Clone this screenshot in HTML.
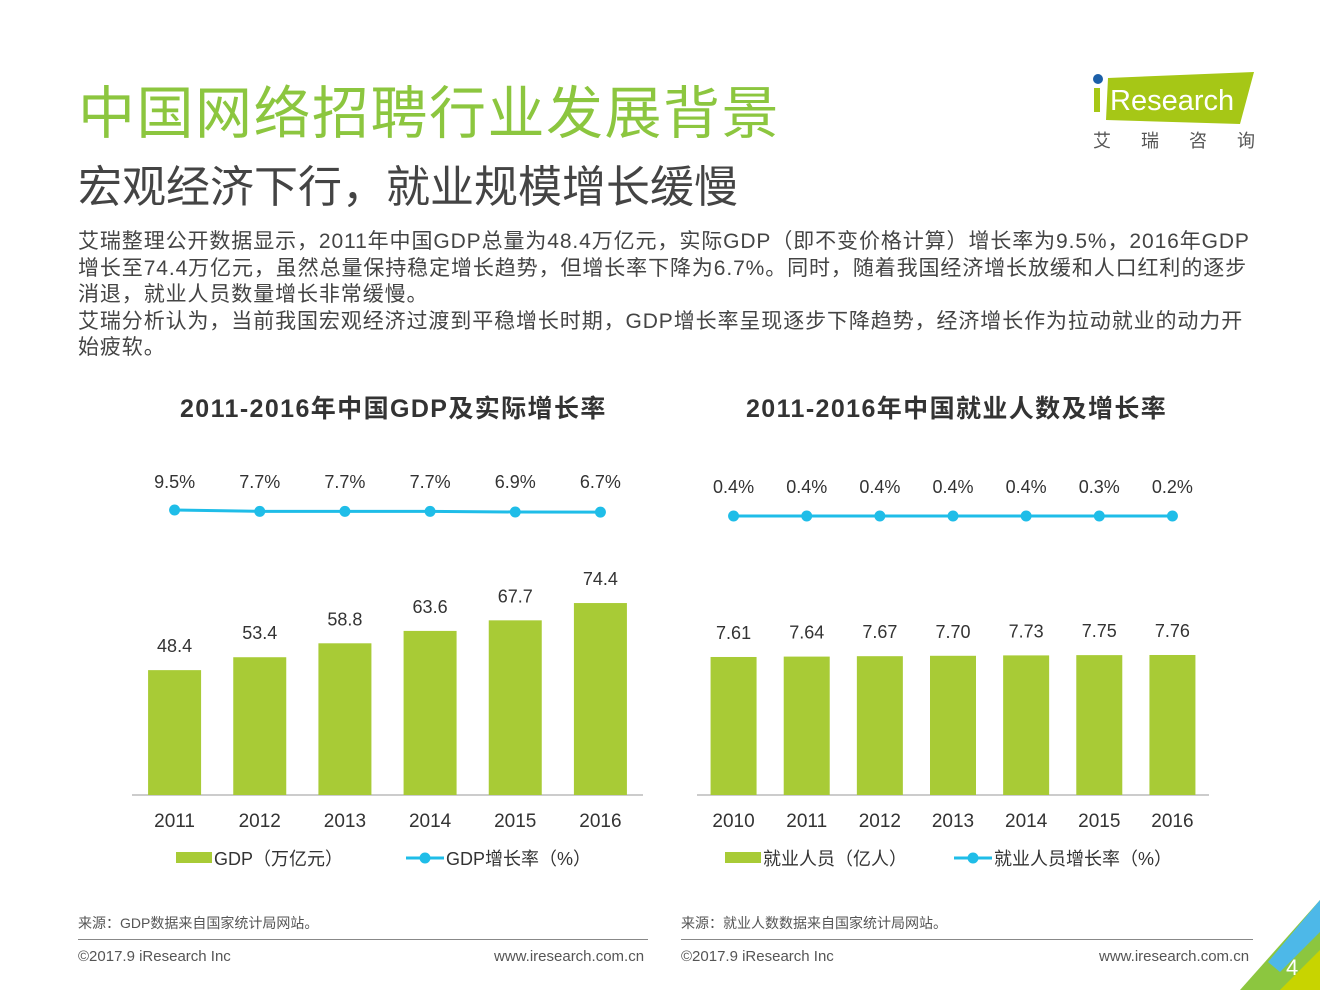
<!DOCTYPE html>
<html><head><meta charset="utf-8"><style>
body{margin:0;width:1320px;height:990px;overflow:hidden;background:#fff;font-family:"Liberation Sans","Noto Sans CJK SC",sans-serif;position:relative;color:#333}
.a{position:absolute;white-space:nowrap}
</style></head><body>
<div class="a" style="left:78px;top:68px;font-size:57px;color:#8cc63f;letter-spacing:1.5px">中国网络招聘行业发展背景</div>
<div class="a" style="left:78px;top:151px;font-size:44px;color:#444">宏观经济下行，就业规模增长缓慢</div>
<div class="a" style="left:78px;top:229px;font-size:21px;line-height:26.5px;color:#444;letter-spacing:0.9px">艾瑞整理公开数据显示，2011年中国GDP总量为48.4万亿元，实际GDP（即不变价格计算）增长率为9.5%，2016年GDP<br>增长至74.4万亿元，虽然总量保持稳定增长趋势，但增长率下降为6.7%。同时，随着我国经济增长放缓和人口红利的逐步<br>消退，就业人员数量增长非常缓慢。<br>艾瑞分析认为，当前我国宏观经济过渡到平稳增长时期，GDP增长率呈现逐步下降趋势，经济增长作为拉动就业的动力开<br>始疲软。</div>
<svg class="a" style="left:1090px;top:70px" width="170" height="85">
<polygon points="18,8 164,2 150,54 16,50" fill="#a6c716"/>
<circle cx="8" cy="9" r="5" fill="#1b5fa8"/>
<rect x="4" y="18" width="6" height="24" fill="#a6c716"/>
<text x="20" y="40" font-size="29" fill="#fff" font-family="Liberation Sans,sans-serif">Research</text>
<text x="3" y="77" font-size="18" fill="#555" font-family="Noto Sans CJK SC,sans-serif">艾</text>
<text x="51" y="77" font-size="18" fill="#555" font-family="Noto Sans CJK SC,sans-serif">瑞</text>
<text x="99" y="77" font-size="18" fill="#555" font-family="Noto Sans CJK SC,sans-serif">咨</text>
<text x="147" y="77" font-size="18" fill="#555" font-family="Noto Sans CJK SC,sans-serif">询</text>
</svg>
<div class="a" style="left:180px;top:389px;font-size:25px;font-weight:bold;color:#333;letter-spacing:1.4px">2011-2016年中国GDP及实际增长率</div>
<div class="a" style="left:746px;top:389px;font-size:25px;font-weight:bold;color:#333;letter-spacing:1.4px">2011-2016年中国就业人数及增长率</div>
<svg id="c" class="a" style="left:0;top:0" width="1320" height="990"></svg>
<div class="a" style="left:78px;top:913px;font-size:14px;color:#555">来源：GDP数据来自国家统计局网站。</div>
<div class="a" style="left:681px;top:913px;font-size:14px;color:#555">来源：就业人数数据来自国家统计局网站。</div>
<div class="a" style="left:78px;top:939px;width:570px;border-top:1px solid #888"></div>
<div class="a" style="left:681px;top:939px;width:572px;border-top:1px solid #888"></div>
<div class="a" style="left:78px;top:948px;font-size:15px;color:#555">©2017.9 iResearch Inc</div>
<div class="a" style="left:494px;top:948px;font-size:15px;color:#555">www.iresearch.com.cn</div>
<div class="a" style="left:681px;top:948px;font-size:15px;color:#555">©2017.9 iResearch Inc</div>
<div class="a" style="left:1099px;top:948px;font-size:15px;color:#555">www.iresearch.com.cn</div>
<svg class="a" style="left:1240px;top:900px" width="80" height="90">
<polygon points="80,0 80,90 0,90" fill="#8cc63f"/>
<polygon points="80,0 80,32 40,72 28,62" fill="#4db8e8"/>
<polygon points="80,50 80,90 40,90" fill="#c8d400"/>
<text x="46" y="75" font-size="22" fill="#fff" font-family="Liberation Sans,sans-serif">4</text>
</svg>
<script>
const gdpYears=["2011","2012","2013","2014","2015","2016"];
const gdpValues=[48.4,53.4,58.8,63.6,67.7,74.4];
const gdpRates=[9.5,7.7,7.7,7.7,6.9,6.7];
const empYears=["2010","2011","2012","2013","2014","2015","2016"];
const empValues=[7.61,7.64,7.67,7.70,7.73,7.75,7.76];
const empRates=[0.4,0.4,0.4,0.4,0.4,0.3,0.2];
const empValueLabels=["7.61","7.64","7.67","7.70","7.73","7.75","7.76"];
const empRateLabels=["0.4%","0.4%","0.4%","0.4%","0.4%","0.3%","0.2%"];
const svg=document.getElementById('c');const NS='http://www.w3.org/2000/svg';
function mk(t,a,txt){const e=document.createElementNS(NS,t);for(const k in a)e.setAttribute(k,a[k]);if(txt!=null)e.textContent=txt;svg.appendChild(e);return e;}
const GREEN='#a8cb36',BLUE='#1fbde8',BASE=795;
function chart(cfg){
 const n=cfg.cats.length;
 let ax=mk('line',{x1:cfg.x0,x2:cfg.x1,y1:BASE,y2:BASE,stroke:'#999','stroke-width':1});
 
 const step=(cfg.x1-cfg.x0)/n;
 const cx=i=>cfg.x0+step*(i+0.5);
 let pts=[];
 cfg.cats.forEach((c,i)=>{
  const top=cfg.yv(cfg.vals[i]);
  let b=mk('rect',{x:cx(i)-cfg.bw/2,y:top,width:cfg.bw,height:BASE-top,fill:GREEN});
  
  let vl=mk('text',{x:cx(i),y:top-18,'text-anchor':'middle','font-size':18,fill:'#333'},cfg.vlab(i));
  
  let xl=mk('text',{x:cx(i),y:827,'text-anchor':'middle','font-size':19,fill:'#333'},c);
  
  const ry=cfg.yr(cfg.rates[i]);pts.push(cx(i)+','+ry);
  let rl=mk('text',{x:cx(i),y:cfg.rly,'text-anchor':'middle','font-size':18,fill:'#333'},cfg.rlab(i));
  
 });
 let pl=mk('polyline',{points:pts.join(' '),fill:'none',stroke:BLUE,'stroke-width':3});
 
 pts.forEach(p=>{const [x,y]=p.split(',');let d=mk('circle',{cx:x,cy:y,r:5.5,fill:BLUE});
  });
 let lb=mk('rect',{x:cfg.lx,y:852,width:36,height:11,fill:GREEN});
 
 let lt=mk('text',{x:cfg.lx+38,y:865,'font-size':18,fill:'#333'},cfg.l1);
 
 let ll=mk('line',{x1:cfg.lx2,x2:cfg.lx2+38,y1:858,y2:858,stroke:BLUE,'stroke-width':3});
 
 let lc=mk('circle',{cx:cfg.lx2+19,cy:858,r:5.5,fill:BLUE});
 
 let lt2=mk('text',{x:cfg.lx2+40,y:865,'font-size':18,fill:'#333'},cfg.l2);
 
}
chart({p:'gdp',cats:gdpYears,vals:gdpValues,rates:gdpRates,x0:132,x1:643,bw:53,
 yv:v=>BASE-v*2.58,yr:r=>517.3-r*0.77,rly:488,
 vlab:i=>gdpValues[i].toFixed(1),rlab:i=>gdpRates[i].toFixed(1)+'%',
 lx:176,lx2:406,l1:'GDP（万亿元）',l2:'GDP增长率（%）'});
chart({p:'emp',cats:empYears,vals:empValues,rates:empRates,x0:697,x1:1209,bw:46,
 yv:v=>BASE-(v*13.3+36.8),yr:r=>516,rly:493,
 vlab:i=>empValueLabels[i],rlab:i=>empRateLabels[i],
 lx:725,lx2:954,l1:'就业人员（亿人）',l2:'就业人员增长率（%）'});
</script>
</body></html>
